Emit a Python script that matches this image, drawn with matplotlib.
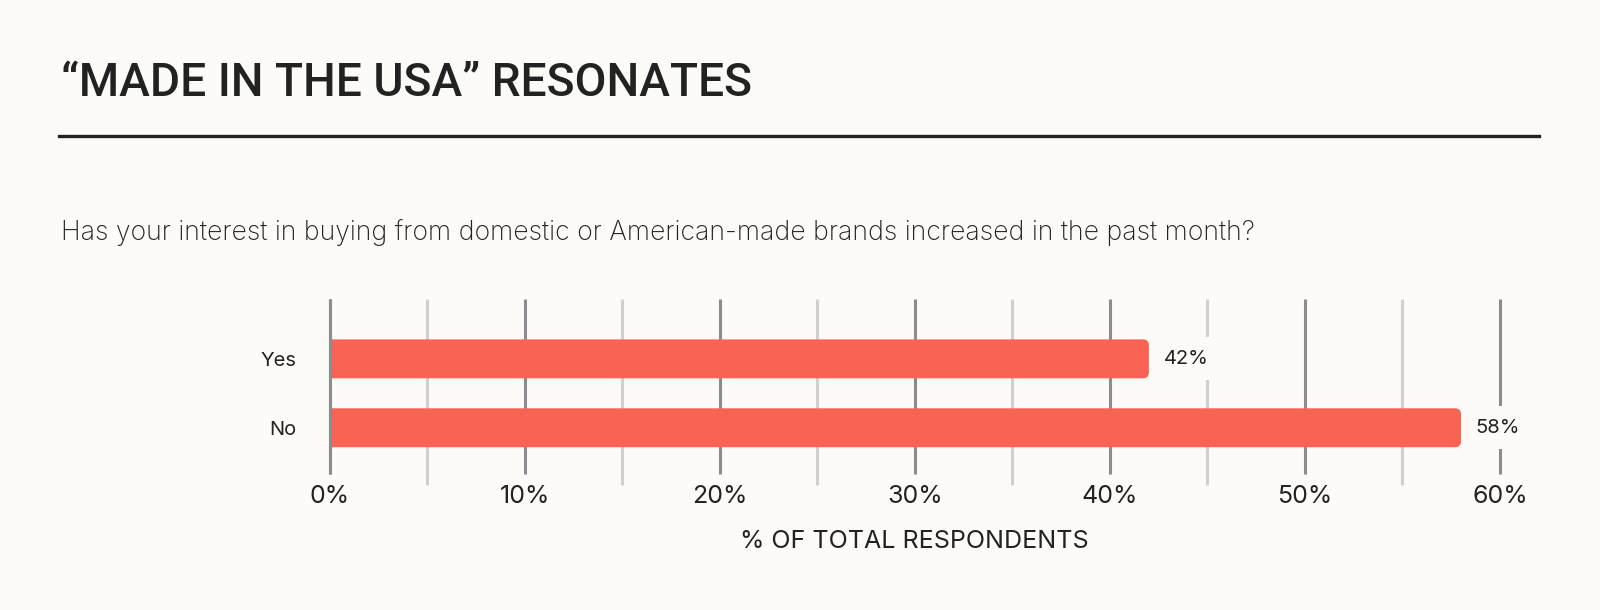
import matplotlib.pyplot as plt
from matplotlib.patches import FancyBboxPatch, Rectangle
from matplotlib.lines import Line2D

# data
categories = ['Yes', 'No']
values = [42, 58]
value_labels = ['42%', '58%']
major_ticks = [0, 10, 20, 30, 40, 50, 60]
minor_ticks = [5, 15, 25, 35, 45, 55]
tick_labels = ['0%', '10%', '20%', '30%', '40%', '50%', '60%']

title = '\u201cMADE IN THE USA\u201d RESONATES'
subtitle = 'Has your interest in buying from domestic or American-made brands increased in the past month?'
xlabel = '% OF TOTAL RESPONDENTS'

bg = '#fdfbf8'
bar_color = '#f96353'
ink = '#222222'

plt.rcParams['font.family'] = ['Inter', 'DejaVu Sans']

fig = plt.figure(figsize=(16, 6.1), dpi=100, facecolor=bg)
ax = fig.add_axes([0.206, 0.205, 0.7315, 0.305])
ax.set_facecolor(bg)

ypos = list(range(len(categories)))
bar_h = 0.565
bars = ax.barh(ypos, values, height=bar_h, color=bar_color, zorder=2)

# rounded right ends; left end clipped flat at 0
clip = Rectangle((0, -5), 100, 10, transform=ax.transData)
for b in bars:
    x, y, w, h = b.get_x(), b.get_y(), b.get_width(), b.get_height()
    b.remove()
    p = FancyBboxPatch((x - 1, y), w + 1, h,
                       boxstyle='round,pad=0,rounding_size=0.3',
                       mutation_aspect=0.29,
                       facecolor=bar_color, edgecolor='none', zorder=2)
    ax.add_patch(p)
    p.set_clip_path(clip)

ax.set_xlim(0, 60)
ax.set_ylim(1.83, -0.87)

# grid lines drawn by hand so major/minor have different lengths
ax.vlines(major_ticks, -0.87, 1.67, colors='#8c8c8c', linewidth=2.2,
          zorder=1, clip_on=False)
ax.vlines(minor_ticks, -0.87, 1.83, colors='#d0d0d0', linewidth=2.2,
          zorder=1, clip_on=False)
ax.vlines([0], -0.87, 1.67, colors='#8c8c8c', linewidth=2.2, zorder=3,
          clip_on=False)

for yy, v, lab in zip(ypos, values, value_labels):
    ax.text(v + 0.75, yy, lab, va='center', ha='left', fontsize=14.5,
            color=ink, zorder=4,
            bbox=dict(facecolor=bg, edgecolor='none', pad=9))

ax.set_yticks(ypos)
ax.set_yticklabels(categories, fontsize=14.5, color=ink)
ax.set_xticks(major_ticks)
ax.set_xticklabels(tick_labels, fontsize=18, color=ink)
ax.tick_params(axis='y', length=0, pad=24)
ax.tick_params(axis='x', length=0, pad=0)
ax.set_xlabel(xlabel, fontsize=18, color=ink, labelpad=16)
for s in ax.spines.values():
    s.set_visible(False)

fig.text(0.038, 0.843, title, fontsize=33.2, fontweight='medium', color=ink,
         ha='left', va='baseline', family=['Roboto', 'DejaVu Sans'])
fig.add_artist(Line2D([0.037, 0.962], [0.777, 0.777], color=ink,
                      linewidth=2.4, transform=fig.transFigure))
fig.text(0.038, 0.618, subtitle, fontsize=19.2, fontweight='light',
         color=ink, ha='left', va='center')

fig.savefig('out.png', dpi=100, facecolor=bg)
